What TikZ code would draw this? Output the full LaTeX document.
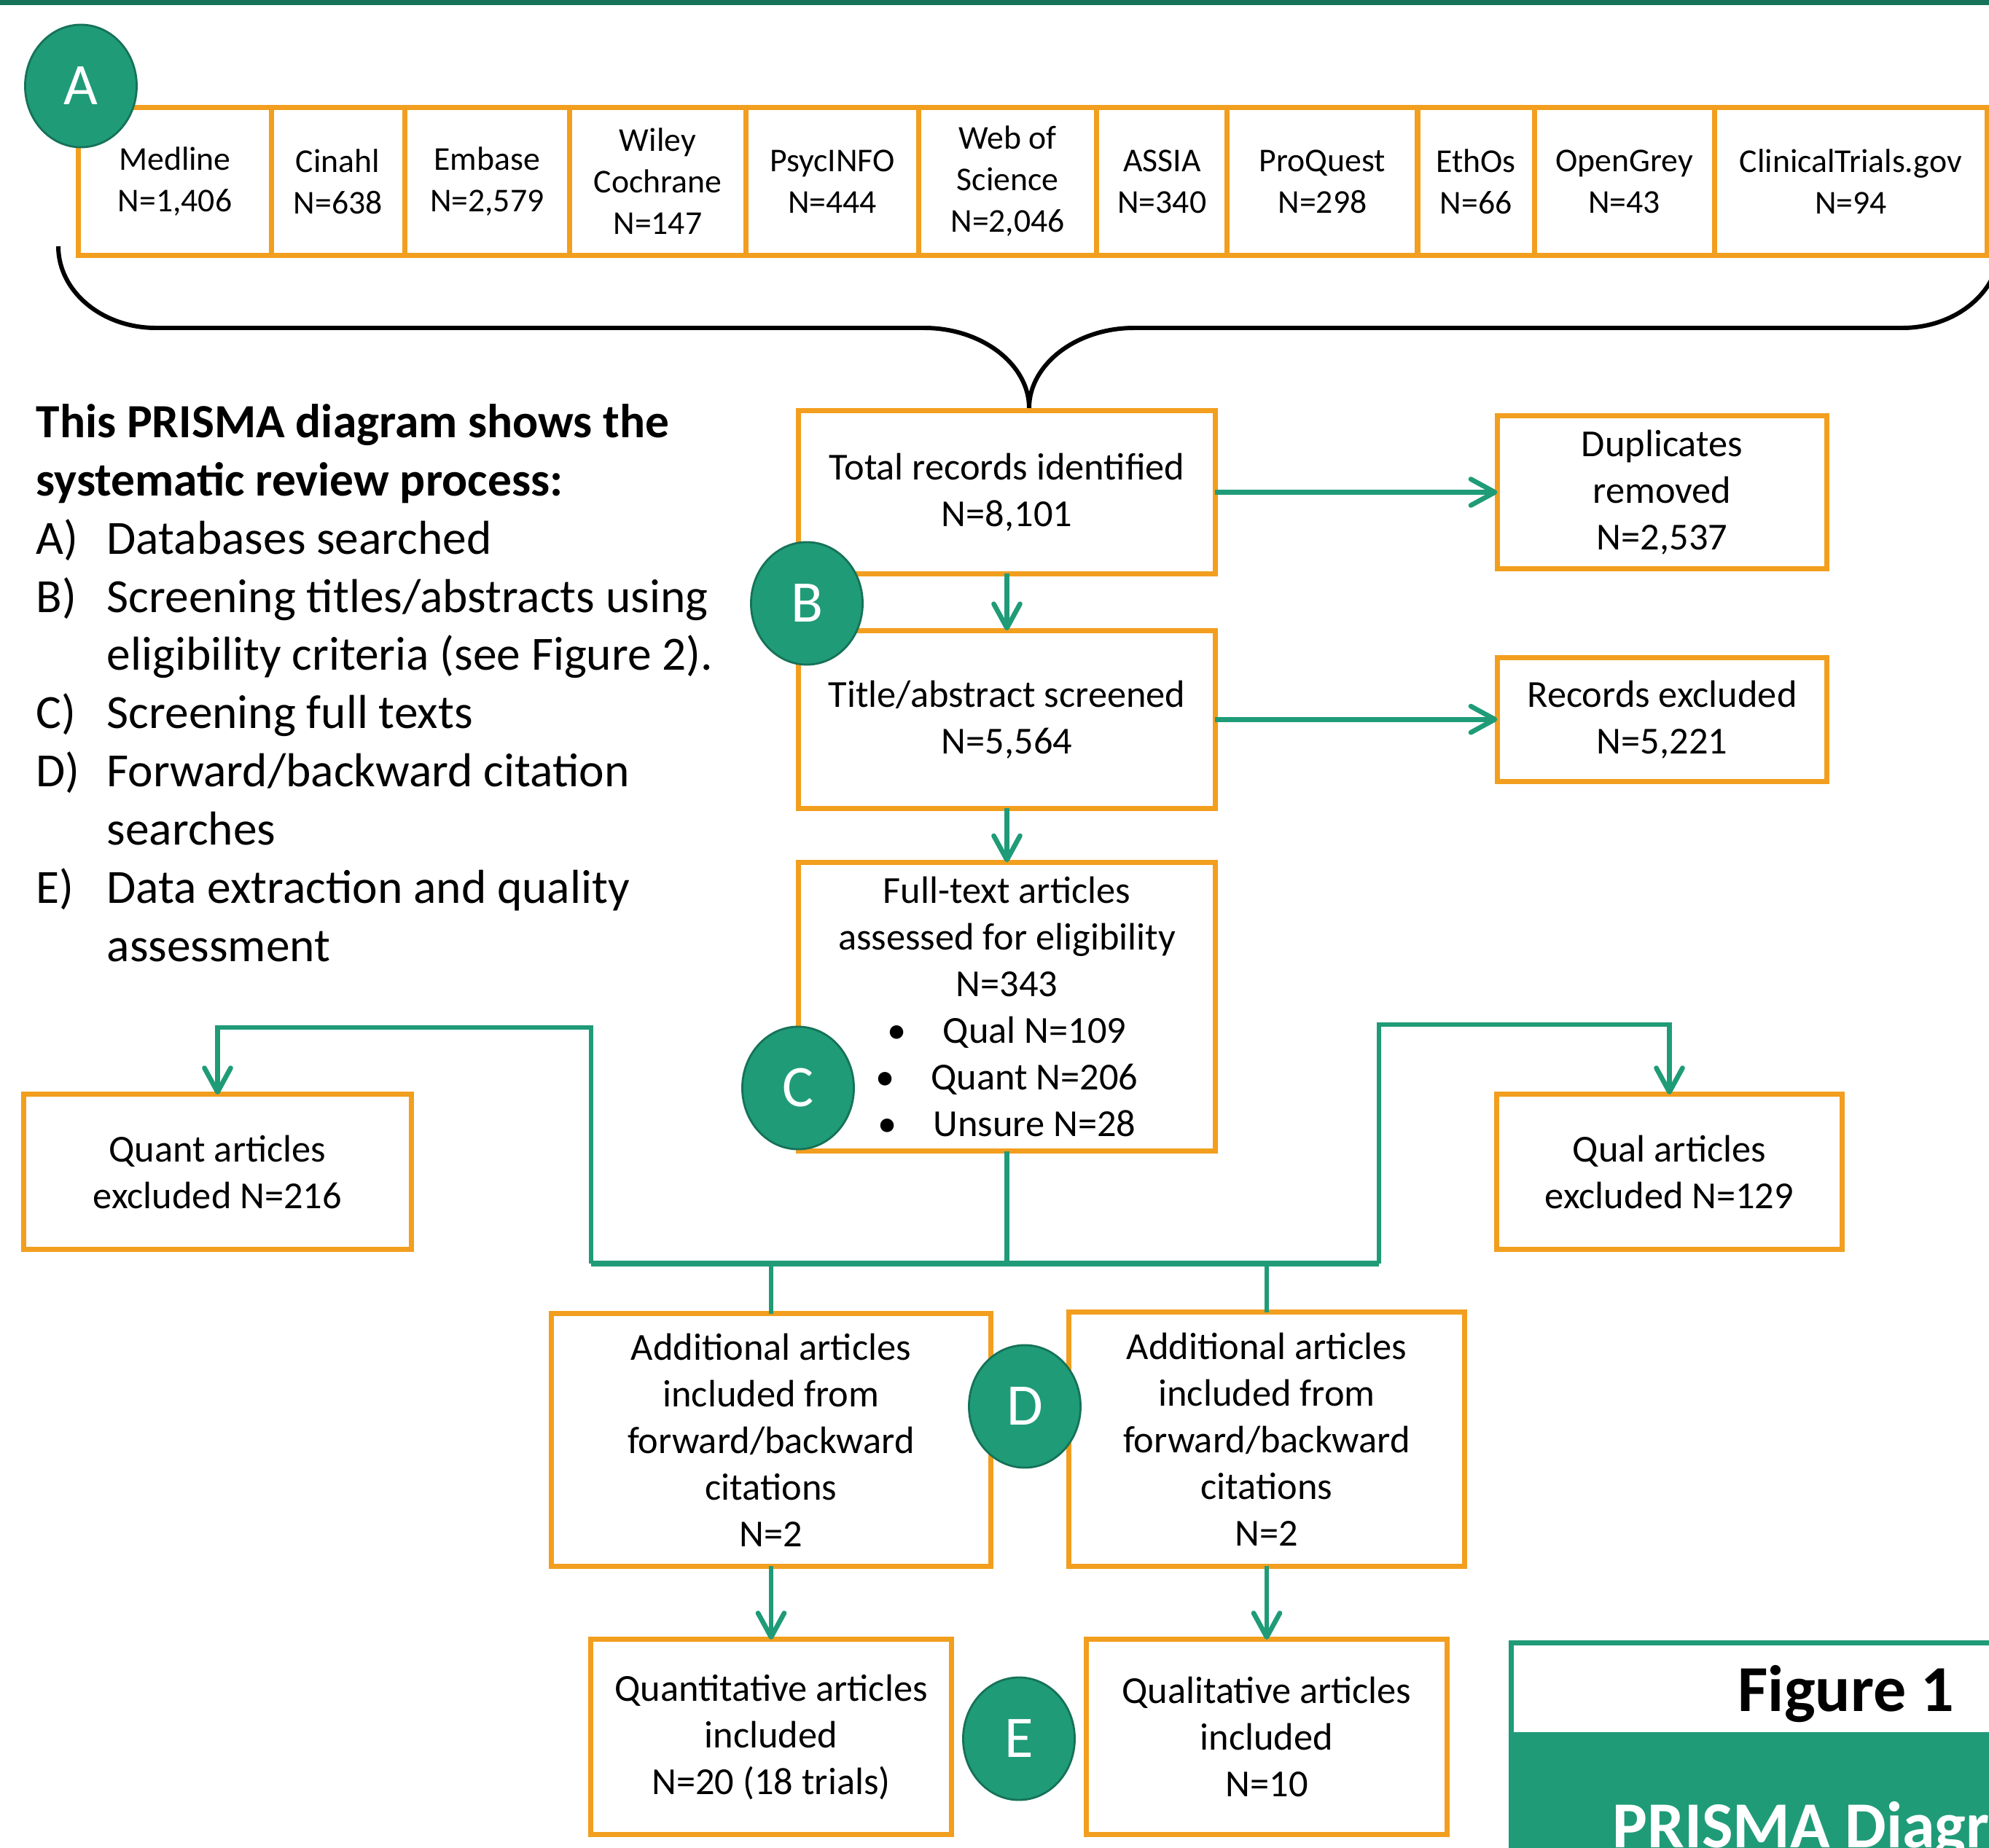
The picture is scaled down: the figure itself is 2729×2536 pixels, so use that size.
\documentclass[tikz,border=0pt]{standalone}
\usepackage{fontspec}
\setmainfont{Carlito}
\usepackage{tikz}
\usetikzlibrary{positioning,arrows.meta,shapes.geometric}

\definecolor{prismagreen}{RGB}{31,155,120}
\definecolor{prismadark}{RGB}{22,114,88}
\definecolor{prismaorange}{RGB}{242,158,30}

\newcommand{\dbfont}{\fontsize{13}{16.2}\selectfont}
\newcommand{\boxfont}{\fontsize{14.9}{18.2}\selectfont}
\newcommand{\legendfont}{\fontsize{18.6}{22.7}\selectfont}
\newcommand{\stagefont}{\fontsize{23}{26}\selectfont}
\newcommand{\figfont}{\fontsize{25.6}{30}\selectfont\bfseries}
\newcommand{\legitem}[1]{\makebox[0.97cm][l]{#1}}

\tikzset{
  dbbox/.style={rectangle, draw=prismaorange, line width=2pt, minimum height=2.03cm, inner sep=0pt, outer sep=0pt, align=center, font=\dbfont},
  flowbox/.style={rectangle, draw=prismaorange, line width=2pt, inner sep=0pt, outer sep=0pt, align=center, font=\boxfont},
  stage/.style={ellipse, fill=prismagreen, draw=prismadark, line width=0.8pt, minimum width=1.53cm, minimum height=1.68cm, inner sep=0pt, text=white, font=\stagefont},
  link/.style={draw=prismagreen, line width=1.9pt},
  flow/.style={link, -{Straight Barb[length=3.3mm, width=3.6mm, round]}},
  legend/.style={align=left, inner sep=0pt, font=\legendfont},
  brace/.style={draw=black, line width=1.7pt}
}

\begin{document}
\begin{tikzpicture}[x=0.01cm, y=-0.01cm]
	\useasboundingbox (0,0) rectangle (2729,2536);
	\clip (0,0) rectangle (2729,2536);
	\draw[prismadark, line width=3pt] (0,2) -- (2729,2);

	% databases searched
	\node[dbbox, minimum width=2.64cm] (medline) at (240,249) {Medline\\N=1,406};
	\node[dbbox, minimum width=1.83cm, right=0pt of medline] (cinahl) {Cinahl\\N=638};
	\node[dbbox, minimum width=2.26cm, right=0pt of cinahl] (embase) {Embase\\N=2,579};
	\node[dbbox, minimum width=2.42cm, right=0pt of embase] (wiley) {Wiley\\Cochrane\\N=147};
	\node[dbbox, minimum width=2.37cm, right=0pt of wiley] (psycinfo) {PsycINFO\\N=444};
	\node[dbbox, minimum width=2.44cm, right=0pt of psycinfo] (wos) {Web of\\Science\\N=2,046};
	\node[dbbox, minimum width=1.79cm, right=0pt of wos] (assia) {ASSIA\\N=340};
	\node[dbbox, minimum width=2.61cm, right=0pt of assia] (proquest) {ProQuest\\N=298};
	\node[dbbox, minimum width=1.60cm, right=0pt of proquest] (ethos) {EthOs\\N=66};
	\node[dbbox, minimum width=2.47cm, right=0pt of ethos] (opengrey) {OpenGrey\\N=43};
	\node[dbbox, minimum width=3.74cm, right=0pt of opengrey] (trials) {ClinicalTrials.gov\\N=94};

	% brace joining the databases
	\draw[brace] (80,338) .. controls (80,400) and (140,450) .. (214,450) -- (1268,450)
		.. controls (1347,450) and (1412,500) .. (1412,560)
		.. controls (1412,500) and (1477,450) .. (1556,450) -- (2610,450)
		.. controls (2684,450) and (2744,400) .. (2744,338);

	% legend
	\node[legend, anchor=north west] (legend) at (49,554) {\textbf{This PRISMA diagram shows the}\\
		\textbf{systematic review process:}\\
		\legitem{A)}Databases searched\\
		\legitem{B)}Screening titles/abstracts using\\
		\legitem{}eligibility criteria (see Figure 2).\\
		\legitem{C)}Screening full texts\\
		\legitem{D)}Forward/backward citation\\
		\legitem{}searches\\
		\legitem{E)}Data extraction and quality\\
		\legitem{}assessment};

	% screening
	\node[flowbox, minimum width=5.71cm, minimum height=2.23cm] (total) at (1381.5,675.5) {Total records identified\\N=8,101};
	\node[flowbox, minimum width=4.52cm, minimum height=2.10cm, right=3.87cm of total] (dup) {Duplicates\\removed\\N=2,537};
	\node[flowbox, minimum width=5.71cm, minimum height=2.44cm, below=0.78cm of total] (title) {Title/abstract screened\\N=5,564};
	\node[flowbox, minimum width=4.52cm, minimum height=1.70cm, right=3.87cm of title] (recexcl) {Records excluded\\N=5,221};
	\node[flowbox, minimum width=5.71cm, minimum height=3.96cm, below=0.74cm of title] (fulltext) {Full-text articles\\assessed for eligibility\\N=343\\
		•\hspace{0.5cm}Qual N=109\\•\hspace{0.5cm}Quant N=206\\•\hspace{0.5cm}Unsure N=28};
	\node[flowbox, minimum width=5.31cm, minimum height=2.12cm] (quantexcl) at (298.5,1608) {Quant articles\\excluded N=216};
	\node[flowbox, minimum width=4.73cm, minimum height=2.12cm] (qualexcl) at (2290.5,1608) {Qual articles\\excluded N=129};

	% citation searches and inclusion
	\node[flowbox, minimum width=6.02cm, minimum height=3.46cm] (addleft) at (1058,1976) {Additional articles\\included from\\forward/backward\\citations\\N=2};
	\node[flowbox, minimum width=5.43cm, minimum height=3.48cm] (addright) at (1738,1975) {Additional articles\\included from\\forward/backward\\citations\\N=2};
	\node[flowbox, minimum width=4.94cm, minimum height=2.67cm] (quantincl) at (1058,2383.5) {Quantitative articles\\included\\N=20 (18 trials)};
	\node[flowbox, minimum width=4.94cm, minimum height=2.67cm] (qualincl) at (1738,2383.5) {Qualitative articles\\included\\N=10};

	% connectors
	\draw[flow] (total.east) -- (dup.west);
	\draw[flow] (total.south) -- (title.north);
	\draw[flow] (title.east) -- (recexcl.west);
	\draw[flow] (title.south) -- (fulltext.north);
	\coordinate (hub) at (1381.5,1734);
	\coordinate (barL) at (811,1734);
	\coordinate (barR) at (1892,1734);
	\coordinate (kneeL) at (811,1410);
	\coordinate (kneeR) at (1892,1406);
	\draw[link] (fulltext.south) -- (hub);
	\draw[link, line width=2.1pt] (barL) -- (barR);
	\draw[flow] (barL) -- (kneeL) -| (quantexcl.north);
	\draw[flow] (barR) -- (kneeR) -| (qualexcl.north);
	\draw[link] (addleft.north |- hub) -- (addleft.north);
	\draw[link] (addright.north |- hub) -- (addright.north);
	\draw[flow] (addleft.south) -- (quantincl.north);
	\draw[flow] (addright.south) -- (qualincl.north);

	% stage markers
	\node[stage] (stageA) at (111,118) {A};
	\node[stage] (stageB) at (1107,828) {B};
	\node[stage] (stageC) at (1095,1493) {C};
	\node[stage] (stageD) at (1406,1930) {D};
	\node[stage] (stageE) at (1398,2386) {E};

	% figure caption
	\fill[prismagreen] (2073,2377) rectangle (2760,2560);
	\draw[prismagreen, line width=2pt] (2760,2254) -- (2073,2254) -- (2073,2560);
	\node[anchor=base east, inner sep=0pt, font=\figfont] (figlabel) at (2682,2348) {Figure 1};
	\node[anchor=base west, inner sep=0pt, font=\figfont, text=white] (figtitle) at (2212,2535) {PRISMA Diagram};
\end{tikzpicture}
\end{document}
